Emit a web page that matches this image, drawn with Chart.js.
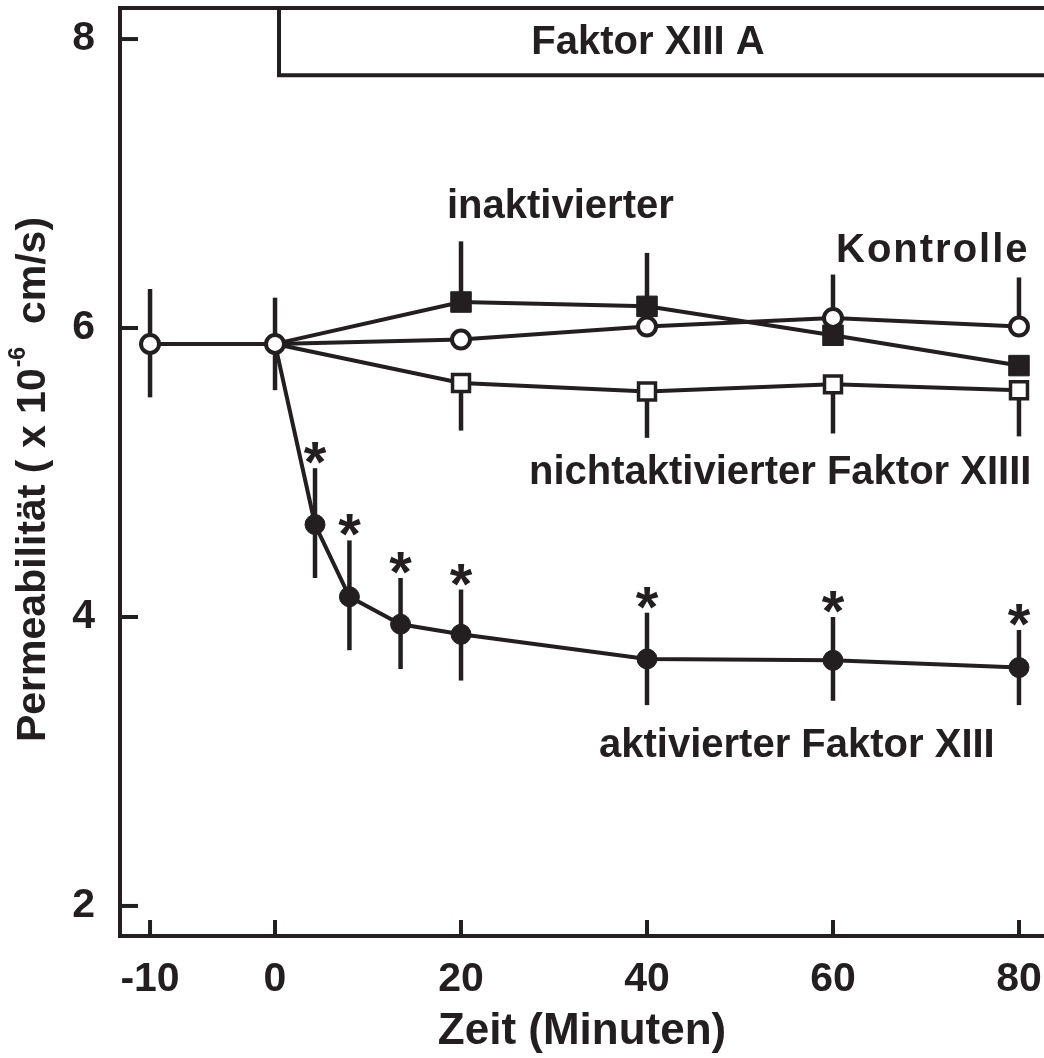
<!DOCTYPE html>
<html>
<head>
<meta charset="utf-8">
<script src="https://cdn.jsdelivr.net/npm/chart.js@4/dist/chart.umd.min.js"></script>
<style>
  html, body { margin: 0; padding: 0; background: #ffffff; }
  #wrap { width: 1044px; height: 1058px; position: relative; }
</style>
</head>
<body>
<div id="wrap"><canvas id="c" width="1044" height="1058"></canvas></div>
<script>
// ---------------- DATA ----------------
const X_TICKS = [-10, 0, 20, 40, 60, 80];
const Y_TICKS = [2, 4, 6, 8];

const kontrolleTime    = [-10, 0, 20, 40, 60, 80];
const kontrolleValue   = [5.89, 5.89, 5.92, 6.01, 6.07, 6.01];
const kontrolleErrUp   = [0.38, 0.32, 0, 0, 0.30, 0.34];
const kontrolleErrDown = [0.37, 0.32, 0, 0, 0, 0];

const inaktivTime    = [0, 20, 40, 60, 80];
const inaktivValue   = [5.89, 6.18, 6.15, 5.95, 5.74];
const inaktivErrUp   = [0, 0.42, 0.37, 0, 0];
const inaktivErrDown = [0, 0, 0, 0, 0];

const nichtaktivTime    = [0, 20, 40, 60, 80];
const nichtaktivValue   = [5.89, 5.62, 5.56, 5.61, 5.57];
const nichtaktivErrUp   = [0, 0, 0, 0, 0];
const nichtaktivErrDown = [0, 0.33, 0.32, 0.34, 0.32];

const aktivTime     = [0, 4.3, 8, 13.5, 20, 40, 60, 80];
const aktivValue    = [5.89, 4.64, 4.14, 3.95, 3.88, 3.71, 3.70, 3.65];
const aktivErrUp    = [0, 0.39, 0.39, 0.32, 0.31, 0.32, 0.30, 0.26];
const aktivErrDown  = [0, 0.37, 0.37, 0.31, 0.32, 0.32, 0.28, 0.26];
const aktivSignificant = [false, true, true, true, true, true, true, true];

const treatmentStart = 0;      // Faktor XIII A added at t = 0
const treatmentLabel = 'Faktor XIII A';

// ---------------- STYLE ----------------
const INK = '#231f20';
const FONT = '"Liberation Sans", Arial, sans-serif';
const NEG_STRETCH = 1.344;   // the pre-treatment segment of the time axis is drawn stretched

// custom time scale: linear, with the negative (baseline) part stretched
class BrokenLinearScale extends Chart.LinearScale {
  tx(v) { return v < 0 ? v * NEG_STRETCH : v; }
  getPixelForValue(v) { return super.getPixelForValue(this.tx(v)); }
  buildTicks() { return X_TICKS.map(v => ({ value: v })); }
}
BrokenLinearScale.id = 'brokenLinear';
BrokenLinearScale.defaults = Chart.LinearScale.defaults;
Chart.register(BrokenLinearScale);

function pts(xs, ys) { return xs.map((x, i) => ({ x: x, y: ys[i] })); }
function hideFirst(r) { return ctx => (ctx.dataIndex === 0 ? 0 : r); }

const series = [
  { label: 'Kontrolle', data: pts(kontrolleTime, kontrolleValue), up: kontrolleErrUp, down: kontrolleErrDown,
    pointStyle: 'circle', pointRadius: 9, pointBackgroundColor: '#ffffff', pointBorderWidth: 4 },
  { label: 'inaktivierter', data: pts(inaktivTime, inaktivValue), up: inaktivErrUp, down: inaktivErrDown,
    pointStyle: 'rect', pointRadius: hideFirst(14.5), pointBackgroundColor: INK, pointBorderWidth: 1 },
  { label: 'nichtaktivierter Faktor XIIII', data: pts(nichtaktivTime, nichtaktivValue), up: nichtaktivErrUp, down: nichtaktivErrDown,
    pointStyle: 'rect', pointRadius: hideFirst(12), pointBackgroundColor: '#ffffff', pointBorderWidth: 3.5 },
  { label: 'aktivierter Faktor XIII', data: pts(aktivTime, aktivValue), up: aktivErrUp, down: aktivErrDown,
    pointStyle: 'circle', pointRadius: hideFirst(10), pointBackgroundColor: INK, pointBorderWidth: 1 }
];

const datasets = series.map(s => ({
  label: s.label,
  data: s.data,
  errUp: s.up,
  errDown: s.down,
  showLine: true,
  tension: 0,
  borderColor: INK,
  borderWidth: 4,
  pointStyle: s.pointStyle,
  pointRadius: s.pointRadius,
  pointHoverRadius: s.pointRadius,
  pointBackgroundColor: s.pointBackgroundColor,
  pointBorderColor: INK,
  pointBorderWidth: s.pointBorderWidth,
  clip: false
}));

// ---------------- PLUGINS ----------------
const frameAndBars = {
  id: 'frameAndBars',
  beforeDatasetsDraw(chart) {
    const { ctx, chartArea: a, scales: { x, y } } = chart;
    ctx.save();
    ctx.strokeStyle = INK;
    ctx.lineCap = 'butt';
    // error bars
    ctx.lineWidth = 4.5;
    chart.data.datasets.forEach(ds => {
      ds.data.forEach((p, i) => {
        const px = x.getPixelForValue(p.x);
        const up = ds.errUp[i], dn = ds.errDown[i];
        if (up > 0) { ctx.beginPath(); ctx.moveTo(px, y.getPixelForValue(p.y)); ctx.lineTo(px, y.getPixelForValue(p.y + up)); ctx.stroke(); }
        if (dn > 0) { ctx.beginPath(); ctx.moveTo(px, y.getPixelForValue(p.y)); ctx.lineTo(px, y.getPixelForValue(p.y - dn)); ctx.stroke(); }
      });
    });
    // frame: left, bottom, top
    ctx.lineWidth = 4;
    ctx.lineCap = 'square';
    ctx.beginPath();
    ctx.moveTo(a.right + 4, a.top);
    ctx.lineTo(a.left, a.top);
    ctx.lineTo(a.left, a.bottom);
    ctx.lineTo(a.right + 4, a.bottom);
    ctx.stroke();
    ctx.lineCap = 'butt';
    // inward ticks
    Y_TICKS.forEach(v => {
      const py = y.getPixelForValue(v);
      ctx.beginPath(); ctx.moveTo(a.left, py); ctx.lineTo(a.left + 18, py); ctx.stroke();
    });
    X_TICKS.forEach(v => {
      const px = x.getPixelForValue(v);
      ctx.beginPath(); ctx.moveTo(px, a.bottom); ctx.lineTo(px, a.bottom - 16); ctx.stroke();
    });
    // treatment box
    const bx = x.getPixelForValue(treatmentStart) + 4;
    const by = y.getPixelForValue(7.75);
    ctx.beginPath();
    ctx.moveTo(a.right + 10, by);
    ctx.lineTo(bx, by);
    ctx.lineTo(bx, a.top);
    ctx.stroke();
    ctx.fillStyle = INK;
    ctx.font = 'bold 40px ' + FONT;
    ctx.textAlign = 'center';
    ctx.textBaseline = 'middle';
    ctx.fillText(treatmentLabel, 648, (a.top + by) / 2 + 1);
    ctx.restore();
  },
  afterDatasetsDraw(chart) {
    const { ctx, scales: { x, y } } = chart;
    ctx.save();
    ctx.fillStyle = INK;
    // significance asterisks
    ctx.font = 'bold 58px ' + FONT;
    ctx.textAlign = 'center';
    ctx.textBaseline = 'alphabetic';
    aktivTime.forEach((t, i) => {
      if (!aktivSignificant[i]) return;
      const top = y.getPixelForValue(aktivValue[i] + aktivErrUp[i]);
      ctx.fillText('*', x.getPixelForValue(t), top + 14);
    });
    // series labels
    ctx.font = 'bold 40px ' + FONT;
    ctx.textBaseline = 'alphabetic';
    ctx.textAlign = 'left';
    ctx.fillText('inaktivierter', 447, 218);
    ctx.fillText('nichtaktivierter Faktor XIIII', 529, 484);
    ctx.fillText('aktivierter Faktor XIII', 599, 757);
    ctx.letterSpacing = '2px';
    ctx.fillText('Kontrolle', 836, 262);
    ctx.letterSpacing = '0px';
    // y-axis title with superscript
    ctx.translate(34, 480);
    ctx.rotate(-Math.PI / 2);
    const big = 'bold 41px ' + FONT, small = 'bold 23px ' + FONT;
    const p1 = 'Permeabilität ( x 10', p2 = '-6', p3 = '  cm/s)';
    ctx.font = big; const w1 = ctx.measureText(p1).width, w3 = ctx.measureText(p3).width;
    ctx.font = small; const w2 = ctx.measureText(p2).width;
    let sx = -(w1 + w2 + w3) / 2;
    ctx.textAlign = 'left';
    ctx.textBaseline = 'middle';
    ctx.font = big; ctx.fillText(p1, sx, 0); sx += w1 + 1;
    ctx.font = small; ctx.fillText(p2, sx, -15); sx += w2;
    ctx.font = big; ctx.fillText(p3, sx, 0);
    ctx.restore();
  }
};

// ---------------- CHART ----------------
Chart.defaults.font.family = FONT;
Chart.defaults.color = INK;

new Chart(document.getElementById('c'), {
  type: 'scatter',
  data: { datasets: datasets },
  options: {
    responsive: false,
    animation: false,
    events: [],
    layout: { autoPadding: false, padding: { top: 8, right: 0, left: 0, bottom: 0 } },
    plugins: { legend: { display: false }, tooltip: { enabled: false } },
    scales: {
      x: {
        type: 'brokenLinear',
        min: -16.67,
        max: 82.69,
        grid: { display: false },
        border: { display: false },
        ticks: { font: { size: 41, weight: 'bold' }, color: INK, padding: 11, maxRotation: 0, autoSkip: false,
                 callback: v => String(v) },
        title: { display: true, text: 'Zeit (Minuten)', font: { size: 44, weight: 'bold' }, color: INK, padding: { top: 0, bottom: 0 } },
        afterFit: s => { s.height = 122; s.paddingLeft = 0; s.paddingRight = 0; }
      },
      y: {
        type: 'linear',
        min: 1.792,
        max: 8.215,
        grid: { display: false },
        border: { display: false },
        afterBuildTicks: s => { s.ticks = Y_TICKS.map(v => ({ value: v })); },
        ticks: { font: { size: 41, weight: 'bold' }, color: INK, padding: 17, callback: v => String(v) },
        afterFit: s => { s.width = 120; s.paddingTop = 0; s.paddingBottom = 0; }
      }
    }
  },
  plugins: [frameAndBars]
});
</script>
</body>
</html>
